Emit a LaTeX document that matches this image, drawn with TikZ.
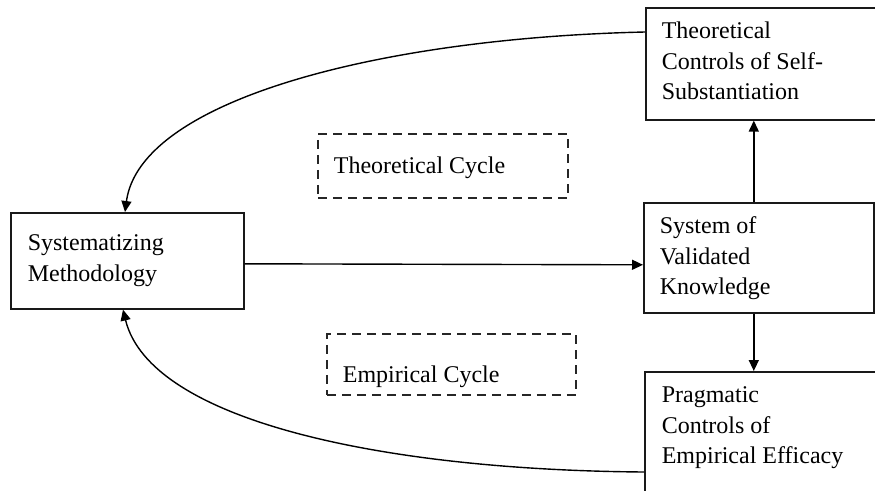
\documentclass[tikz,border=0pt]{standalone}
\usepackage{fontspec}
\setmainfont{Liberation Serif}[Ligatures={NoCommon}]
\usetikzlibrary{arrows.meta}
\newcommand\boxtxt[5]{\parbox[c][#2][t]{#1}{\fontsize{24}{30.5}\selectfont\raggedright\leftskip=#3\relax\rule{0pt}{#4}#5}}
\begin{document}
\begin{tikzpicture}[x=1pt,y=-1pt,
  box/.style={draw=black!90, line width=1.6pt, inner sep=0pt, anchor=north west},
  cyc/.style={box, dash pattern=on 9pt off 6pt, line width=1.8pt, draw=black!85},
  arr/.style={line width=1.4pt, -{Triangle[length=11pt,width=10pt]}}]
\useasboundingbox (0,0) rectangle (875,490);
\clip (0,0) rectangle (875,490);
\node[box] (tc) at (645,7) {\boxtxt{233pt}{112pt}{16pt}{31pt}{Theoretical\\Controls of Self-\\Substantiation}};
\node[box] (sv) at (643,202) {\boxtxt{230pt}{110pt}{16pt}{31pt}{System of\\Validated\\Knowledge}};
\node[box] (pc) at (644,371) {\boxtxt{234pt}{130pt}{17pt}{31pt}{Pragmatic\\Controls of\\Empirical Efficacy}};
\node[box] (sm) at (10,212) {\boxtxt{233pt}{96pt}{17pt}{38pt}{Systematizing\\Methodology}};
\node[cyc] (tcy) at (317,133) {\boxtxt{250pt}{64pt}{16pt}{40pt}{Theoretical Cycle}};
\node[cyc] (ecy) at (326,333) {\boxtxt{249pt}{61pt}{16pt}{49pt}{Empirical Cycle}};
\draw[arr] ([yshift=-25pt]tc.north west) .. controls (380,38) and (140,100) .. ([xshift=115pt]sm.north west);
\draw[arr] ([yshift=-101pt]pc.north west) .. controls (380,470) and (150,420) .. ([xshift=113pt]sm.south west);
\draw[arr] ([yshift=-3pt]sm.east) -- ([yshift=-7pt]sv.west);
\draw[arr] ([xshift=-5pt]sv.north) -- ([xshift=-5pt]sv.north |- tc.south);
\draw[arr] ([xshift=-5pt]sv.south) -- ([xshift=-5pt]sv.south |- pc.north);
\end{tikzpicture}
\end{document}
